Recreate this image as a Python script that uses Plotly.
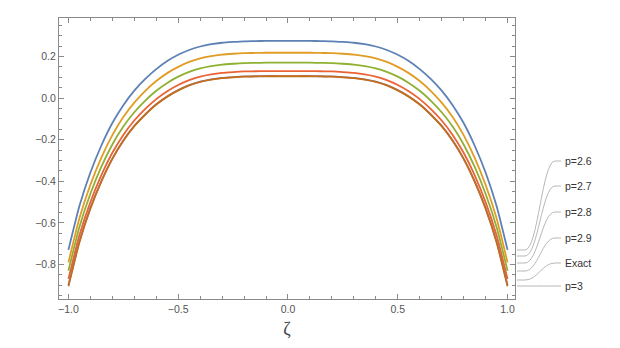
import plotly.graph_objects as go

# --- data ---
zeta = [-1.0, -0.95, -0.9, -0.85, -0.8, -0.75, -0.7, -0.65, -0.6, -0.55, -0.5, -0.45, -0.4, -0.35,
        -0.3, -0.25, -0.2, -0.15, -0.1, -0.05, 0.0, 0.05, 0.1, 0.15, 0.2, 0.25, 0.3, 0.35,
        0.4, 0.45, 0.5, 0.55, 0.6, 0.65, 0.7, 0.75, 0.8, 0.85, 0.9, 0.95, 1.0]

p26 = [-0.730, -0.519, -0.358, -0.228, -0.120, -0.034, 0.036, 0.092, 0.139, 0.178, 0.208, 0.231, 0.248, 0.259,
       0.266, 0.270, 0.273, 0.274, 0.275, 0.275, 0.275, 0.275, 0.275, 0.274, 0.273, 0.270, 0.266, 0.259,
       0.248, 0.231, 0.208, 0.178, 0.139, 0.092, 0.036, -0.034, -0.120, -0.228, -0.358, -0.519, -0.730]
p27 = [-0.790, -0.578, -0.417, -0.286, -0.178, -0.091, -0.022, 0.035, 0.082, 0.120, 0.150, 0.174, 0.191, 0.202,
       0.209, 0.213, 0.216, 0.217, 0.218, 0.218, 0.218, 0.218, 0.218, 0.217, 0.216, 0.213, 0.209, 0.202,
       0.191, 0.174, 0.150, 0.120, 0.082, 0.035, -0.022, -0.091, -0.178, -0.286, -0.417, -0.578, -0.790]
p28 = [-0.830, -0.620, -0.460, -0.330, -0.223, -0.137, -0.068, -0.012, 0.035, 0.073, 0.103, 0.126, 0.143, 0.154,
       0.161, 0.165, 0.168, 0.169, 0.170, 0.170, 0.170, 0.170, 0.170, 0.169, 0.168, 0.165, 0.161, 0.154,
       0.143, 0.126, 0.103, 0.073, 0.035, -0.012, -0.068, -0.137, -0.223, -0.330, -0.460, -0.620, -0.830]
p29 = [-0.870, -0.660, -0.500, -0.370, -0.263, -0.177, -0.108, -0.052, -0.005, 0.033, 0.063, 0.086, 0.103, 0.114,
       0.121, 0.125, 0.128, 0.129, 0.130, 0.130, 0.130, 0.130, 0.130, 0.129, 0.128, 0.125, 0.121, 0.114,
       0.103, 0.086, 0.063, 0.033, -0.005, -0.052, -0.108, -0.177, -0.263, -0.370, -0.500, -0.660, -0.870]
exact = [-0.900, -0.690, -0.529, -0.399, -0.291, -0.204, -0.134, -0.078, -0.030, 0.008, 0.038, 0.062, 0.079, 0.090,
         0.097, 0.101, 0.104, 0.105, 0.106, 0.106, 0.106, 0.106, 0.106, 0.105, 0.104, 0.101, 0.097, 0.090,
         0.079, 0.062, 0.038, 0.008, -0.030, -0.078, -0.134, -0.204, -0.291, -0.399, -0.529, -0.690, -0.900]
p30 = [-0.905, -0.693, -0.531, -0.400, -0.292, -0.205, -0.135, -0.079, -0.031, 0.007, 0.037, 0.061, 0.078, 0.089,
       0.096, 0.100, 0.103, 0.104, 0.105, 0.105, 0.105, 0.105, 0.105, 0.104, 0.103, 0.100, 0.096, 0.089,
       0.078, 0.061, 0.037, 0.007, -0.031, -0.079, -0.135, -0.205, -0.292, -0.400, -0.531, -0.693, -0.905]

names = ["p=2.6", "p=2.7", "p=2.8", "p=2.9", "Exact", "p=3"]
series = [p26, p27, p28, p29, exact, p30]
colors = ["#5E81B5", "#E19C24", "#8FB032", "#EB6235", "#8778B3", "#C56E1A"]

# callout positions in page pixels (anchor at frame edge, label to the right)
anchor_px = [250, 256, 263, 271, 280, 286]
label_px = [161, 186, 212, 238, 263, 286]

# page body has an 8px margin, so the figure is placed at (8, 8)
OFF = 8
W, H = 620 - OFF, 348 - OFF
L, R, T, B = 59 - OFF, 515 - OFF, 18 - OFF, 299 - OFF

fig = go.Figure()
for name, ys, c in zip(names, series, colors):
    fig.add_trace(go.Scatter(x=zeta, y=ys, name=name, mode="lines",
                             line=dict(color=c, width=1.8, shape="spline", smoothing=0.6)))


def px_x(px):
    return (px - OFF - L) / (R - L)


def px_y(py):
    return (B - (py - OFF)) / (B - T)


for name, a, lab in zip(names, anchor_px, label_px):
    path = "M {} {} L {} {} C {} {}, {} {}, {} {} L {} {}".format(
        px_x(517), px_y(a), px_x(525), px_y(a),
        px_x(538), px_y(a), px_x(542), px_y(lab), px_x(555), px_y(lab),
        px_x(561), px_y(lab))
    fig.add_shape(type="path", path=path, xref="paper", yref="paper",
                  line=dict(color="#b8b8b8", width=1))
    fig.add_annotation(x=px_x(563), y=px_y(lab), xref="paper", yref="paper",
                       text=name, showarrow=False, xanchor="left", yanchor="middle",
                       font=dict(size=10.5, color="#333333", family="Liberation Sans"))

axis_common = dict(
    showline=True, linecolor="#8a8a8a", linewidth=1, mirror="allticks", automargin=False,
    showgrid=False, zeroline=False, ticks="inside", ticklen=5, tickcolor="#8a8a8a",
    tickfont=dict(size=10.5, color="#555555", family="Liberation Sans"),
)

fig.update_layout(
    width=W, height=H,
    margin=dict(l=L, r=W - R, t=T, b=H - B),
    plot_bgcolor="white", paper_bgcolor="white",
    showlegend=False,
    xaxis=dict(range=[-1.043, 1.034], tickvals=[-1.0, -0.5, 0.0, 0.5, 1.0], tickformat=".1f",
               minor=dict(dtick=0.1, tick0=0, ticks="inside", ticklen=3, tickcolor="#8a8a8a"),
               title=dict(text="ζ", font=dict(size=18, color="#444444", family="Liberation Serif"),
                          standoff=8),
               **axis_common),
    yaxis=dict(range=[-0.966, 0.385], tickvals=[-0.8, -0.6, -0.4, -0.2, 0.0, 0.2], tickformat=".1f",
               minor=dict(dtick=0.05, tick0=0, ticks="inside", ticklen=3, tickcolor="#8a8a8a"),
               **axis_common),
)

fig.write_html("out.html")
